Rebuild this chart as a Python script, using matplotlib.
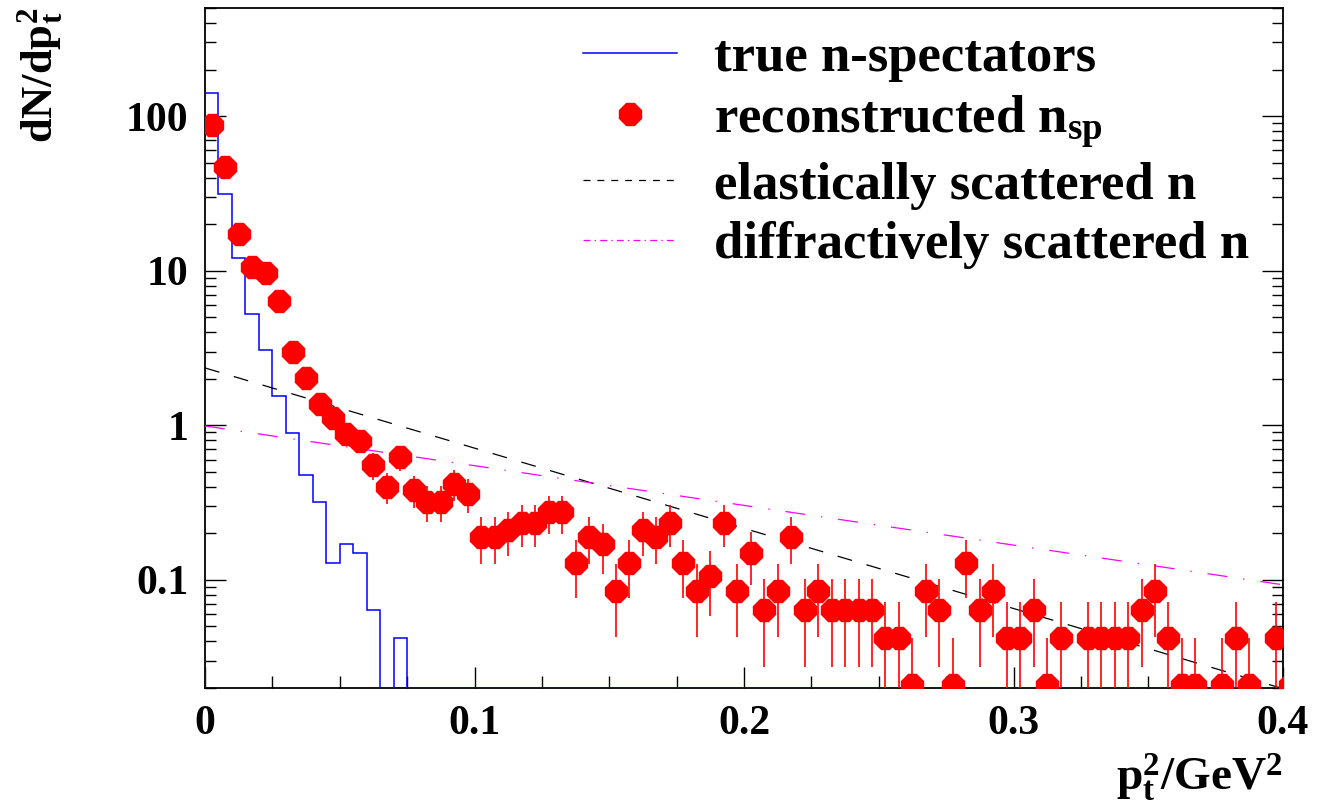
import numpy as np
import matplotlib
matplotlib.use("Agg")
import matplotlib.pyplot as plt
from matplotlib.lines import Line2D

plt.rcParams['font.family'] = ['Liberation Serif', 'DejaVu Serif']
plt.rcParams['font.weight'] = 'bold'
plt.rcParams['mathtext.fontset'] = 'custom'
plt.rcParams['mathtext.rm'] = 'Liberation Serif:bold'
plt.rcParams['mathtext.it'] = 'Liberation Serif:bold'
plt.rcParams['mathtext.bf'] = 'Liberation Serif:bold'
plt.rcParams['lines.scale_dashes'] = False

# ---------------- data ----------------
bin_width = 0.005
n_bins = 80
edges = np.arange(n_bins + 1) * bin_width
entry_weight = 0.0212   # weight of one entry (smallest nonzero value)

# reconstructed n_sp (bins 0..79 plus one overflow bin at 0.4025), 0 = empty
reco_values = [
    88, 47, 17.3, 10.5, 9.7, 6.4, 2.96, 2.01, 1.37, 1.11,
    0.875, 0.79, 0.55, 0.40, 0.62, 0.38, 0.32, 0.32, 0.42, 0.36,
    0.19, 0.19, 0.21, 0.233, 0.233, 0.275, 0.275, 0.128, 0.19, 0.17,
    0.085, 0.128, 0.21, 0.19, 0.233, 0.128, 0.085, 0.106, 0.233, 0.085,
    0.149, 0.064, 0.085, 0.19, 0.064, 0.085, 0.064, 0.064, 0.064, 0.064,
    0.042, 0.042, 0.021, 0.085, 0.064, 0.021, 0.128, 0.064, 0.085, 0.042,
    0.042, 0.064, 0.021, 0.042, 0, 0.042, 0.042, 0.042, 0.042, 0.064,
    0.085, 0.042, 0.021, 0.021, 0, 0.021, 0.042, 0.021, 0, 0.042,
    0.021,
]

# true n-spectators histogram (bins 0..79)
true_values = [141, 31.4, 12.1, 5.28, 3.09, 1.54, 0.89, 0.48, 0.32, 0.128,
               0.17, 0.149, 0.064, 0, 0.042] + [0] * 65

# exponential curves: values at x = 0 and x = 0.4
curve_x = [0.0, 0.4]
elastic_y = [2.35, 0.0198]
diffractive_y = [0.99, 0.093]

legend_labels = ['true n-spectators', r'reconstructed n$_{\mathrm{sp}}$',
                 'elastically scattered n', 'diffractively scattered n']

xmin, xmax = 0.0, 0.4
ymin, ymax = 0.02, 500

# ---------------- figure ----------------
W, H = 1326, 807
fig = plt.figure(figsize=(W / 100, H / 100), dpi=100)
ax = fig.add_axes([205 / W, (H - 688) / H, (1283 - 205) / W, (688 - 8) / H])
ax.set_yscale('log')
ax.set_xlim(xmin, xmax)
ax.set_ylim(ymin, ymax)

# true histogram
tv = np.array(true_values, dtype=float)
tv_draw = np.where(tv > 0, tv, ymin)
ax.stairs(tv_draw, edges, baseline=ymin, color='#0000ff', lw=1.1, zorder=3)

# curves
ax.plot(curve_x, elastic_y, color='black', lw=0.9, ls=(0, (10.8, 10.8)), zorder=4)
ax.plot(curve_x, diffractive_y, color='#ff00ff', lw=0.9,
        ls=(0, (14.4, 11.5, 1.0, 11.5)), zorder=4)

# reconstructed points
rv = np.array(reco_values, dtype=float)
centers = (np.arange(len(rv)) + 0.5) * bin_width
mask = rv > 0
err = np.sqrt(rv[mask] * entry_weight)
ax.errorbar(centers[mask], rv[mask], yerr=[np.minimum(err, rv[mask] - 1e-6), err],
            fmt='8', color='#ff0000', ms=16.5, mec='#ff0000', elinewidth=1.2,
            capsize=0, zorder=5)

# axes styling (ROOT-like)
for s in ax.spines.values():
    s.set_linewidth(1.3)
ax.tick_params(which='both', direction='in', top=False, right=True,
               labelsize=30, width=1.0)
ax.tick_params(axis='y', which='major', length=15, pad=12)
ax.tick_params(axis='y', which='minor', length=8)
ax.tick_params(axis='x', which='major', length=15, pad=12)
ax.tick_params(axis='x', which='minor', length=9)
ax.set_xticks([0, 0.1, 0.2, 0.3, 0.4])
ax.set_xticklabels(['0', '0.1', '0.2', '0.3', '0.4'])
ax.set_xticks(np.arange(0, 0.4001, 0.025), minor=True)
ax.set_yticks([0.1, 1, 10, 100])
ax.set_yticklabels(['0.1', '1', '10', '100'])
ax.yaxis.set_minor_locator(matplotlib.ticker.LogLocator(base=10, subs=np.arange(2, 10)))
ax.yaxis.set_minor_formatter(matplotlib.ticker.NullFormatter())

ax.set_xlabel(r'$\mathrm{p_t^2/GeV^2}$', fontsize=34, loc='right')
ax.xaxis.set_label_coords(1.0, -0.093)
ax.set_ylabel(r'$\mathrm{dN/dp_t^2}$', fontsize=32, loc='top')
ax.yaxis.set_label_coords(-0.130, 1.0)

handles = [
    Line2D([], [], color='#0000ff', lw=1.1),
    Line2D([], [], color='#ff0000', marker='8', ms=16.5, ls='none'),
    Line2D([], [], color='black', lw=0.9, ls=(0, (5, 5))),
    Line2D([], [], color='#ff00ff', lw=0.9, ls=(0, (5, 3, 1, 3))),
]
leg = ax.legend(handles, legend_labels, loc='upper left',
                bbox_to_anchor=(583 / W, 1 - 34 / H), bbox_transform=fig.transFigure,
                frameon=False, fontsize=38, handlelength=94 / 53,
                handletextpad=38 / 53, labelspacing=0.22, borderpad=0,
                borderaxespad=0)

fig.savefig('out.png', dpi=100)
